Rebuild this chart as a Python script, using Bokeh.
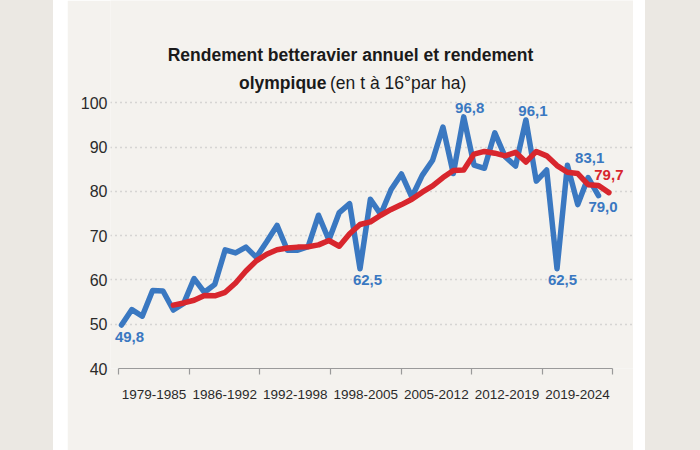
from bokeh.plotting import figure
from bokeh.models import FixedTicker, Label, LinearAxis, Range1d, Div
from bokeh.layouts import row
from bokeh.embed import file_html
from bokeh.resources import INLINE

# ---------------- data ----------------
blue_years = list(range(1978, 2025))
blue_values = [49.8, 53.3, 51.8, 57.6, 57.5, 53.2, 54.7, 60.3, 57.2, 59.0,
               66.8, 66.1, 67.4, 65.1, 68.6, 72.3, 66.7, 66.7, 67.5, 74.6,
               69.0, 75.2, 77.2, 62.5, 78.2, 74.8, 80.4, 83.9, 78.7, 83.6,
               87.0, 94.5, 84.0, 96.8, 85.9, 85.2, 93.2, 87.8, 85.7, 96.1,
               82.3, 84.8, 62.5, 85.9, 77.0, 83.1, 79.0]
red_years = list(range(1983, 2026))
red_values = [54.3, 54.8, 55.4, 56.5, 56.4, 57.2, 59.3, 62.0, 64.3, 65.8,
              66.8, 67.2, 67.4, 67.5, 67.9, 68.9, 67.6, 70.4, 72.5, 73.1,
              74.6, 75.9, 77.0, 78.2, 79.8, 81.2, 83.1, 84.7, 84.8, 88.4,
              89.0, 88.6, 88.0, 88.8, 86.6, 89.0, 88.0, 85.8, 84.3, 84.0,
              81.5, 81.3, 79.7]
periods = ["1979-1985", "1986-1992", "1992-1998", "1998-2005",
           "2005-2012", "2012-2019", "2019-2024"]
y_ticks = [40, 50, 60, 70, 80, 90, 100]
title_line1 = "Rendement betteravier annuel et rendement"
title_bold2 = "olympique"
title_reg2 = "(en t à 16°par ha)"

# ---------------- layout (page pixels) ----------------
PAGE_W, PAGE_H = 700, 450
CARD_L, CARD_R = 67, 633          # card (figure) extent on the page
FRAME_L, FRAME_R = 110, 633       # plot frame on the page
FRAME_T, FRAME_B = 0, 368
SXP = 10.3696                     # px per year
SYP = 4.43                        # px per unit
X_FIRST_PX = 121                  # page x of first year
X0 = blue_years[0] - (X_FIRST_PX - FRAME_L) / SXP
X1 = X0 + (FRAME_R - FRAME_L) / SXP
Y0 = 40
Y1 = Y0 + (FRAME_B - FRAME_T) / SYP
AX_L, AX_R = 118.3, 612.3         # period axis extent on the page
PER_PX = (AX_R - AX_L) / (2 * len(periods))

def dxp(px):
    return px / SXP

def dyp(px):
    return px / SYP

def px2x(page_x):
    return X0 + (page_x - FRAME_L) / SXP

def px2y(page_y):
    return Y0 + (FRAME_B - page_y) / SYP

BLUE = "#3a78c1"
RED = "#d8262d"
CARD = "#f4f2ee"
OUTER = "#ebe8e3"
TXT = "#2a2a2a"
FONT = "Liberation Sans"

p = figure(width=CARD_R - CARD_L, height=PAGE_H,
           x_range=(X0, X1), y_range=(Y0, Y1), title=None,
           output_backend="svg", toolbar_location=None,
           x_axis_location=None,
           min_border_left=FRAME_L - CARD_L, min_border_right=0,
           min_border_top=FRAME_T, min_border_bottom=PAGE_H - FRAME_B)
p.background_fill_color = CARD
p.border_fill_color = CARD
p.outline_line_color = None

# y axis
p.yaxis.ticker = FixedTicker(ticks=y_ticks)
p.yaxis.axis_line_color = None
p.yaxis.major_tick_line_color = None
p.yaxis.minor_tick_line_color = None
p.yaxis.major_tick_out = 0
p.yaxis.major_label_text_font = FONT
p.yaxis.major_label_text_font_size = "16px"
p.yaxis.major_label_text_color = TXT
p.yaxis.major_label_standoff = 3

p.ygrid.ticker = FixedTicker(ticks=y_ticks[1:])
p.ygrid.bounds = (px2x(113), px2x(613))
p.ygrid.grid_line_color = "#b9b9b9"
p.ygrid.grid_line_width = 1.3
p.ygrid.grid_line_dash = "1 4"
p.xgrid.visible = False

# period axis
n = len(periods)
per_start = -(AX_L - FRAME_L) / PER_PX
per_end = per_start + (FRAME_R - FRAME_L) / PER_PX
p.extra_x_ranges = {"per": Range1d(per_start, per_end)}
ax = LinearAxis(x_range_name="per", bounds=(0, 2 * n))
ax.ticker = FixedTicker(ticks=[2 * i + 1 for i in range(n)],
                        minor_ticks=[2 * i for i in range(n + 1)])
ax.major_label_overrides = {2 * i + 1: lab for i, lab in enumerate(periods)}
ax.axis_line_color = "#9a9a9a"
ax.axis_line_width = 1.2
ax.major_tick_line_color = None
ax.major_tick_out = 0
ax.major_tick_in = 0
ax.minor_tick_line_color = "#9a9a9a"
ax.minor_tick_line_width = 1.2
ax.minor_tick_out = 6
ax.minor_tick_in = 0
ax.major_label_standoff = 15
ax.major_label_text_font = FONT
ax.major_label_text_font_size = "13.5px"
ax.major_label_text_color = TXT
p.add_layout(ax, "below")

# lines
p.line(blue_years, blue_values, line_width=5.5, color=BLUE,
       line_join="round", line_cap="round")
p.line(red_years, red_values, line_width=5.5, color=RED,
       line_join="round", line_cap="round")

def fmt(v):
    return f"{v:.1f}".replace(".", ",")

# value labels: (years, values, index, dx px, dy px (down +), colour)
ann = [
    (blue_years, blue_values, 0, 8, 11.6, BLUE),
    (blue_years, blue_values, 23, 7.5, 11, BLUE),
    (blue_years, blue_values, 33, 6, -9, BLUE),
    (blue_years, blue_values, 39, 7, -9, BLUE),
    (blue_years, blue_values, 42, 5.5, 11, BLUE),
    (blue_years, blue_values, 45, 1.5, -19.5, BLUE),
    (blue_years, blue_values, 46, 4.5, 11.3, BLUE),
    (red_years, red_values, len(red_values) - 1, 0, -17.6, RED),
]
for yrs, vals, i, ox, oy, col in ann:
    p.add_layout(Label(x=yrs[i] + dxp(ox), y=vals[i] - dyp(oy),
                       text=fmt(vals[i]), text_align="center",
                       text_baseline="middle", text_font=FONT,
                       text_font_style="bold", text_font_size="15px",
                       text_color=col))

# title
p.add_layout(Label(x=px2x(350), y=px2y(54.5), text=title_line1,
                   text_align="center", text_baseline="middle",
                   text_font=FONT, text_font_style="bold",
                   text_font_size="17.5px", text_color="#1a1a1a"))
p.add_layout(Label(x=px2x(326), y=px2y(82.6), text=title_bold2,
                   text_align="right", text_baseline="middle",
                   text_font=FONT, text_font_style="bold",
                   text_font_size="17.5px", text_color="#1a1a1a"))
p.add_layout(Label(x=px2x(329.5), y=px2y(82.6), text=title_reg2,
                   text_align="left", text_baseline="middle",
                   text_font=FONT, text_font_size="17.5px",
                   text_color="#1a1a1a"))

# outer page background with the white frame strips
left_bg = Div(text="", width=CARD_L, height=PAGE_H, margin=0,
              styles={"background": f"linear-gradient(to right, {OUTER} 0px, {OUTER} 53px, #ffffff 53px, #ffffff {CARD_L}px)"})
right_bg = Div(text="", width=PAGE_W - CARD_R, height=PAGE_H, margin=0,
               styles={"background": f"linear-gradient(to right, #ffffff 0px, #ffffff 12px, {OUTER} 12px, {OUTER} {PAGE_W - CARD_R}px)"})

layout = row(left_bg, p, right_bg, spacing=0)

open("out.html", "w").write(file_html(layout, INLINE))
